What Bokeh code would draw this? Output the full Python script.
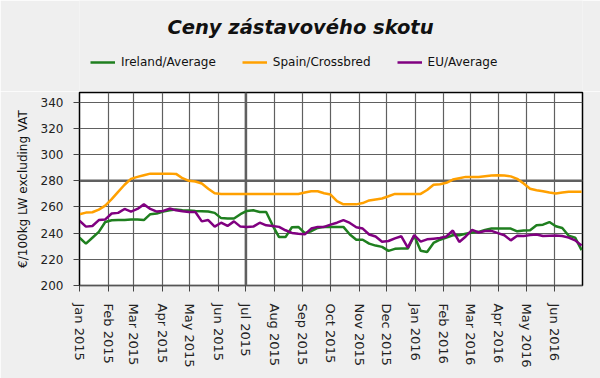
import math
import pandas as pd
from bokeh.plotting import figure
from bokeh.layouts import column
from bokeh.models import (Range1d, FixedTicker, DatetimeTickFormatter, Span, Label,
                          Legend, LegendItem)
from bokeh.embed import file_html
from bokeh.resources import INLINE

# ---- data (weekly) ----
week_start = "2015-01-01"
n_weeks = 79

ireland = [
    236.5, 232, 236.5, 241, 248.5, 249.9, 250, 250, 250.4, 250.5,
    250, 254.5, 255, 256.5, 257.5, 258, 257.5, 257.3, 257, 256.8,
    256.5, 255.5, 251.5, 251.2, 251.2, 254.5, 257,
    257.5, 256.2, 256.2, 246, 237, 237, 244.5, 244.8, 240, 241.5,
    244, 244.8, 244.8, 244.8, 244.8, 239, 235, 235, 232, 230.5,
    229.5, 226.5, 228, 228.2, 228.2, 238,
    226.5, 225.6, 232.5, 235, 236.6, 238.4, 238.4, 239.5, 240.5, 241,
    242.5, 243.5, 243.5, 243.5, 243.5, 241.4, 242, 242.2, 246, 246.5,
    248.5, 245.3, 244, 238, 236.6, 227,
]

spain = [
    254.5, 255.7, 256, 258, 261, 266, 271.6, 277, 281.5, 283,
    284.3, 285.5, 285.5, 285.5, 285.5, 285.3, 282, 280, 279.5, 278,
    274, 270.5, 270, 270, 270, 270, 270,
    270, 270, 270, 270, 270, 270, 270, 270, 271, 272,
    272, 270.5, 269.5, 264.5, 262, 262, 262, 263, 265, 265.8,
    266.5, 268.2, 270, 270, 270, 270,
    270, 273, 277, 277.4, 278.5, 281, 282, 283, 283, 283,
    283.5, 284, 284.3, 284, 283.4, 281.5, 278, 274, 272.8, 272,
    271, 270.3, 271, 271.6, 271.6, 271.6,
]

eu = [
    249.5, 245, 245.5, 250, 250.5, 255, 255.5, 258.5, 256.5, 258.5,
    262, 258.5, 256.5, 257, 258.8, 257.5, 256.8, 256.2, 256.2, 249,
    250, 245, 248, 245.5, 249, 245, 244.8,
    245, 248, 246, 245.5, 244.8, 242.2, 240.2, 239.6, 239.1, 243.5,
    244.8, 244.8, 246.5, 248, 249.9, 247.8, 244.5, 243.5, 239, 237.5,
    233.5, 234, 236, 237.6, 229, 238.5,
    233.5, 235.3, 235.8, 236.3, 237.5, 242, 233.3, 237.5, 242.5, 240.5,
    241.7, 241.7, 240, 238.4, 234.5, 238, 237.8, 238.5, 239, 237.8,
    238, 238.2, 237.8, 236.6, 234.5, 230.5,
]

title_text = "Ceny zástavového skotu"
y_label = "€/100kg LW excluding VAT"
series_names = ["Ireland/Average", "Spain/Crossbred", "EU/Average"]
series_colors = ["#1f7f1f", "#ffa000", "#800080"]
y_ticks = [200, 220, 240, 260, 280, 300, 320, 340]
month_ticks = ["2015-01-01", "2015-02-01", "2015-03-01", "2015-04-01", "2015-05-01",
               "2015-06-01", "2015-07-01", "2015-08-01", "2015-09-01", "2015-10-01",
               "2015-11-01", "2015-12-01", "2016-01-01", "2016-02-01", "2016-03-01",
               "2016-04-01", "2016-05-01", "2016-06-01"]

dates = pd.date_range(week_start, periods=n_weeks, freq="7D")


def ms(d):
    return pd.Timestamp(d).value / 1e6


BG = "#efefef"
TOP_H = 91
FRAME_LEFT = 79   # the column aligns the header frame with the chart frame

# ---------------- header (title + legend) ----------------
head = figure(width=600, height=TOP_H, output_backend="svg", toolbar_location=None,
              x_range=Range1d(0, 1), y_range=Range1d(0, 1),
              x_axis_location=None, y_axis_location=None,
              min_border_left=0, min_border_right=0, min_border_top=0,
              min_border_bottom=0)
head.grid.visible = False
head.outline_line_color = None
head.background_fill_color = BG
head.border_fill_color = BG

# legend-only renderers, their single dummy point lies outside the header's view
head_renderers = [head.line(x=[5, 6], y=[5, 6], line_color=c, line_width=2.5)
                  for c in series_colors]
legend = Legend(items=[LegendItem(label=n, renderers=[r])
                       for n, r in zip(series_names, head_renderers)],
                orientation="horizontal", location=(90 - FRAME_LEFT, 21),
                background_fill_alpha=0, border_line_alpha=0,
                padding=0, margin=0, spacing=26, label_standoff=6,
                glyph_width=25, glyph_height=16, label_height=16,
                label_text_font="DejaVu Sans", label_text_font_size="12px",
                label_text_color="#111111")
head.add_layout(legend, "center")
head.add_layout(Label(x=300 - FRAME_LEFT, y=64.5, x_units="screen", y_units="screen",
                      text=title_text, text_align="center", text_baseline="alphabetic",
                      text_font="DejaVu Sans", text_font_size="19.5px",
                      text_font_style="bold italic", text_color="#111111"))

# ---------------- main chart ----------------
fig = figure(width=600, height=378 - TOP_H, x_axis_type="datetime", output_backend="svg",
             toolbar_location=None,
             x_range=Range1d(ms("2015-01-01"), ms("2016-07-01")),
             y_range=Range1d(200, 347.5),
             min_border_left=FRAME_LEFT, min_border_right=18, min_border_top=1,
             min_border_bottom=93)

fig.border_fill_color = BG
fig.background_fill_color = "white"
fig.outline_line_color = "black"
fig.outline_line_width = 1.5

fig.xaxis.ticker = FixedTicker(ticks=[ms(d) for d in month_ticks])
fmt = "%b %Y"
fig.xaxis.formatter = DatetimeTickFormatter(
    milliseconds=fmt, seconds=fmt, minsec=fmt, minutes=fmt, hourmin=fmt, hours=fmt,
    days=fmt, months=fmt, years=fmt)
fig.xaxis.major_label_orientation = -math.pi / 2
fig.yaxis.ticker = FixedTicker(ticks=y_ticks)

for ax in (fig.xaxis[0], fig.yaxis[0]):
    ax.major_tick_out = 6
    ax.major_tick_in = 0
    ax.minor_tick_out = 0
    ax.minor_tick_in = 0
    ax.major_tick_line_color = "#444444"
    ax.major_label_text_font = "DejaVu Sans"
    ax.major_label_text_font_size = "12px"
    ax.major_label_text_color = "#222222"

fig.xaxis.major_label_text_font_size = "13px"
fig.xaxis.axis_line_color = "#555555"
fig.xaxis.major_label_standoff = 12
fig.yaxis.axis_line_color = "black"
fig.yaxis.major_label_standoff = 10
fig.yaxis.axis_label = y_label
fig.yaxis.axis_label_text_font = "DejaVu Sans"
fig.yaxis.axis_label_text_font_size = "12px"
fig.yaxis.axis_label_text_font_style = "normal"
fig.yaxis.axis_label_text_color = "#111111"
fig.yaxis.axis_label_standoff = 8

for g in (fig.xgrid[0], fig.ygrid[0]):
    g.grid_line_color = "#606060"
    g.grid_line_width = 1.2

fig.add_layout(Span(location=280, dimension="width", line_color="#606060",
                    line_width=2.5, level="underlay"))
fig.add_layout(Span(location=ms("2015-07-01"), dimension="height", line_color="#606060",
                    line_width=2.5, level="underlay"))

for vals, color in zip([ireland, spain, eu], series_colors):
    fig.line(dates, vals, line_color=color, line_width=2.5)

p = column(head, fig, spacing=0)

open("out.html", "w").write(file_html(p, INLINE))
